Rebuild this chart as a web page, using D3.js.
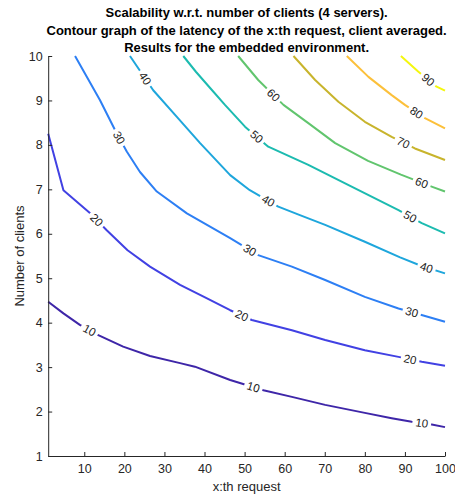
<!DOCTYPE html>
<html>
<head>
<meta charset="utf-8">
<script src="https://cdn.jsdelivr.net/npm/d3@7"></script>
<style>
    body { margin: 0; background: #fff; }
    text { font-family: "Liberation Sans", Arial, sans-serif; }
</style>
</head>
<body>
<svg id="chart" width="455" height="497"></svg>
<script>
const titleLines = [
    'Scalability w.r.t. number of clients (4 servers).',
    'Contour graph of the latency of the x:th request, client averaged.',
    'Results for the embedded environment.'
];
const xTicks = [10, 20, 30, 40, 50, 60, 70, 80, 90, 100];
const yTicks = [1, 2, 3, 4, 5, 6, 7, 8, 9, 10];
const levels = [10, 20, 30, 40, 50, 60, 70, 80, 90];

// contour lines, [x:th request, number of clients]
const c10 = [[1, 4.47], [4.8, 4.21], [8.9, 3.95], [13.5, 3.72], [19.7, 3.46], [26.4, 3.25], [33.9, 3.09], [37.6, 3.01],
    [46.4, 2.71], [54.7, 2.48], [61.8, 2.33], [70.1, 2.15], [80, 1.97], [86.7, 1.85], [91.7, 1.77], [96.7, 1.71], [100, 1.65]];
const c20 = [[1, 8.25], [4.8, 6.98], [11.4, 6.47], [15.6, 6.08], [20.8, 5.63], [26.4, 5.26], [33.9, 4.85], [40.5, 4.55],
    [46.4, 4.28], [51.8, 4.06], [61.8, 3.83], [70.1, 3.61], [80, 3.38], [88.4, 3.23], [94.2, 3.12], [100, 3.03]];
const c30 = [[7.7, 10], [13.9, 9.01], [17.7, 8.33], [20.6, 7.85], [23.9, 7.39], [28.1, 6.95], [35.6, 6.46], [46.4, 5.9],
    [53.4, 5.52], [61.8, 5.26], [70.1, 4.96], [80, 4.58], [88.4, 4.32], [94.6, 4.16], [100, 4.02]];
const c40 = [[21.4, 10], [27.2, 9.23], [33.1, 8.63], [38.9, 8.04], [46.4, 7.32], [51.3, 6.98], [58.4, 6.61], [63.8, 6.42],
    [70.1, 6.2], [80, 5.82], [88.8, 5.47], [94, 5.28], [100, 5.11]];
const c50 = [[34.7, 10], [37.9, 9.64], [41.4, 9.28], [45.1, 8.9], [50.1, 8.41], [55.9, 7.96], [65.9, 7.55], [76.7, 7.06],
    [88.4, 6.53], [94.2, 6.24], [100, 6.01]];
const c60 = [[48.4, 10], [53.4, 9.46], [59.7, 8.9], [65.9, 8.49], [72.6, 8.04], [80.8, 7.64], [89, 7.33], [97, 7.05], [100, 6.95]];
const c70 = [[62.2, 10], [67.6, 9.46], [73.4, 8.97], [80, 8.52], [86.7, 8.18], [92.5, 7.92], [100, 7.66]];
const c80 = [[75.5, 10], [80.9, 9.53], [86.7, 9.12], [90, 8.9], [95, 8.6], [100, 8.37]];
const c90 = [[89, 10], [93.3, 9.65], [97.9, 9.31], [100, 9.22]];

// x positions of the inline level labels
const lab10 = [11.3, 52.2, 94.2];
const lab20 = [13.1, 49.3, 91.3];
const lab30 = [18.7, 51.3, 91.7];
const lab40 = [25.2, 55.9, 95.4];
const lab50 = [53.0, 91.3];
const lab60 = [57.2, 94.2];
const lab70 = [89.6];
const lab80 = [92.9];
const lab90 = [95.8];

const lineColors = ['#3e26a8', '#4141e3', '#2d7ff4', '#1ea6dc', '#1cbbb0', '#61c56e', '#c8b42c', '#fcc03a', '#f4f70e'];

const contours = levels.map((level, i) => ({
    level,
    points: [c10, c20, c30, c40, c50, c60, c70, c80, c90][i],
    labels: [lab10, lab20, lab30, lab40, lab50, lab60, lab70, lab80, lab90][i],
    color: lineColors[i]
}));

const axisColor = '#262626';
const svg = d3.select('#chart');

const x = d3.scaleLinear().domain([1, 100]).range([48.2, 445]);
const y = d3.scaleLinear().domain([1, 10]).range([456, 56]);

// title
svg.append('g')
    .selectAll('text')
    .data(titleLines)
    .enter()
    .append('text')
    .attr('x', (x.range()[0] + x.range()[1]) / 2)
    .attr('y', (d, i) => 17.4 + i * 17.5)
    .attr('text-anchor', 'middle')
    .style('font-size', '13px')
    .style('font-weight', 'bold')
    .attr('fill', '#000')
    .text(d => d);

const line = d3.line()
    .x(d => x(d[0]))
    .y(d => y(d[1]));

svg.append('g')
    .selectAll('path')
    .data(contours)
    .enter()
    .append('path')
    .attr('d', d => line(d.points))
    .attr('fill', 'none')
    .attr('stroke', d => d.color)
    .attr('stroke-width', 2)
    .attr('stroke-linejoin', 'round');

// find point and direction on a contour at a given x
function pointAt(points, xv) {
    const px = points.map(p => [x(p[0]), y(p[1])]);
    const tx = x(xv);
    for (let i = 0; i < px.length - 1; i++) {
        const a = px[i], b = px[i + 1];
        if (tx >= a[0] && tx <= b[0]) {
            const t = (tx - a[0]) / (b[0] - a[0] || 1);
            const angle = Math.atan2(b[1] - a[1], b[0] - a[0]) * 180 / Math.PI;
            return {x: tx, y: a[1] + t * (b[1] - a[1]), angle};
        }
    }
    return null;
}

const labelData = [];
contours.forEach(c => {
    c.labels.forEach(lx => {
        const p = pointAt(c.points, lx);
        if (p) labelData.push({...p, text: c.level});
    });
});

const labelGroup = svg.append('g')
    .selectAll('g')
    .data(labelData)
    .enter()
    .append('g')
    .attr('transform', d => `translate(${d.x},${d.y}) rotate(${d.angle})`);

const bg = labelGroup.append('rect').attr('fill', '#fff');

labelGroup.append('text')
    .attr('text-anchor', 'middle')
    .attr('dy', '0.35em')
    .style('font-size', '11.5px')
    .attr('fill', '#222')
    .text(d => d.text)
    .each(function (d) {
        d.w = this.getComputedTextLength();
    });

bg.attr('x', d => -d.w / 2 - 3)
    .attr('y', -6)
    .attr('width', d => d.w + 6)
    .attr('height', 12);

// axes, ticks pointing inward
const xAxis = svg.append('g')
    .attr('transform', `translate(0,${y(1)})`)
    .call(d3.axisBottom(x).tickValues(xTicks).tickSize(-4).tickSizeOuter(0).tickPadding(8.5));

const yAxis = svg.append('g')
    .attr('transform', `translate(${x(1)},0)`)
    .call(d3.axisLeft(y).tickValues(yTicks).tickSize(-4).tickSizeOuter(0).tickPadding(5.5));

[xAxis, yAxis].forEach(g => {
    g.select('.domain').attr('stroke', axisColor);
    g.selectAll('.tick line').attr('stroke', axisColor);
    g.selectAll('.tick text')
        .attr('fill', axisColor)
        .style('font-size', '12.5px')
        .style('font-family', '"Liberation Sans", Arial, sans-serif');
});

svg.append('text')
    .attr('x', (x.range()[0] + x.range()[1]) / 2)
    .attr('y', 491)
    .attr('text-anchor', 'middle')
    .style('font-size', '13px')
    .attr('fill', axisColor)
    .text('x:th request');

svg.append('text')
    .attr('transform', 'rotate(-90)')
    .attr('x', -(y.range()[0] + y.range()[1]) / 2)
    .attr('y', 23.5)
    .attr('text-anchor', 'middle')
    .style('font-size', '13px')
    .attr('fill', axisColor)
    .text('Number of clients');
</script>
</body>
</html>
